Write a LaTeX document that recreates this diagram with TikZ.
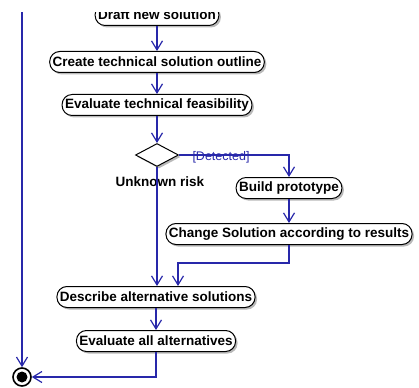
\documentclass[tikz,border=0pt]{standalone}
\usepackage{fontspec}
\setmainfont{Liberation Sans}
\usetikzlibrary{arrows.meta,shadows,shapes.geometric}
\definecolor{flow}{RGB}{40,40,170}
\begin{document}
\begin{tikzpicture}[x=1pt,y=-1pt,
  act/.style={draw=black, fill=white, rounded corners=10pt, minimum height=21pt, inner xsep=3pt, inner ysep=1pt,
    font=\bfseries\fontsize{13.5}{15}\selectfont, line width=1pt,
    drop shadow={shadow xshift=2pt, shadow yshift=-2pt, fill=gray!55, opacity=1}},
  flowline/.style={draw=flow, line width=1.2pt},
  arr/.style={flowline, -{Straight Barb[length=9pt,width=11pt]}},
  lbl/.style={font=\bfseries\fontsize{13.5}{15}\selectfont, inner sep=1pt}]
\useasboundingbox (0,0) rectangle (419,387);
\node[act] (draft) at (157,15) {Draft new solution};
\node[act] (create) at (157,62) {Create technical solution outline};
\node[act] (evaltech) at (157,105) {Evaluate technical feasibility};
\node[diamond, draw, fill=white, line width=1pt, minimum width=43pt, minimum height=23pt, inner sep=0pt, aspect=1.9,
  drop shadow={shadow xshift=2pt, shadow yshift=-2pt, fill=gray!55, opacity=1}] (dec) at (157,155) {};
\node[act] (build) at (289,188) {Build prototype};
\node[act] (change) at (289,234) {Change Solution according to results};
\node[act] (describe) at (156,297) {Describe alternative solutions};
\node[act] (evalall) at (156,341) {Evaluate all alternatives};
\node[circle, fill=black, minimum size=11pt, inner sep=0pt] (finc) at (22,377) {};
\node[circle, draw=black, line width=1.6pt, minimum size=18pt, inner sep=0pt] (final) at (22,377) {};
\node[text=flow, font=\fontsize{12.5}{14}\selectfont, inner sep=1pt] (det) at (221,157) {[Detected]};
\node[lbl] (risk) at (160,182) {Unknown risk};
\coordinate (top) at (22,12);
\coordinate (j1) at (178,263);
\draw[arr] (draft) -- (create);
\draw[arr] (create) -- (evaltech);
\draw[arr] (evaltech) -- (dec);
\draw[arr] (dec.east) -| (build);
\draw[arr] (build) -- (change);
\draw[arr] (dec.south) -- (dec.south |- describe.north);
\draw[arr] (change.south) |- (j1) -- (j1 |- describe.north);
\draw[arr] (describe) -- (evalall);
\draw[arr] (evalall.south) |- (final);
\draw[arr] (top) -- (final.north);
\fill[white] (0,0) rectangle (419,12);
\end{tikzpicture}
\end{document}
